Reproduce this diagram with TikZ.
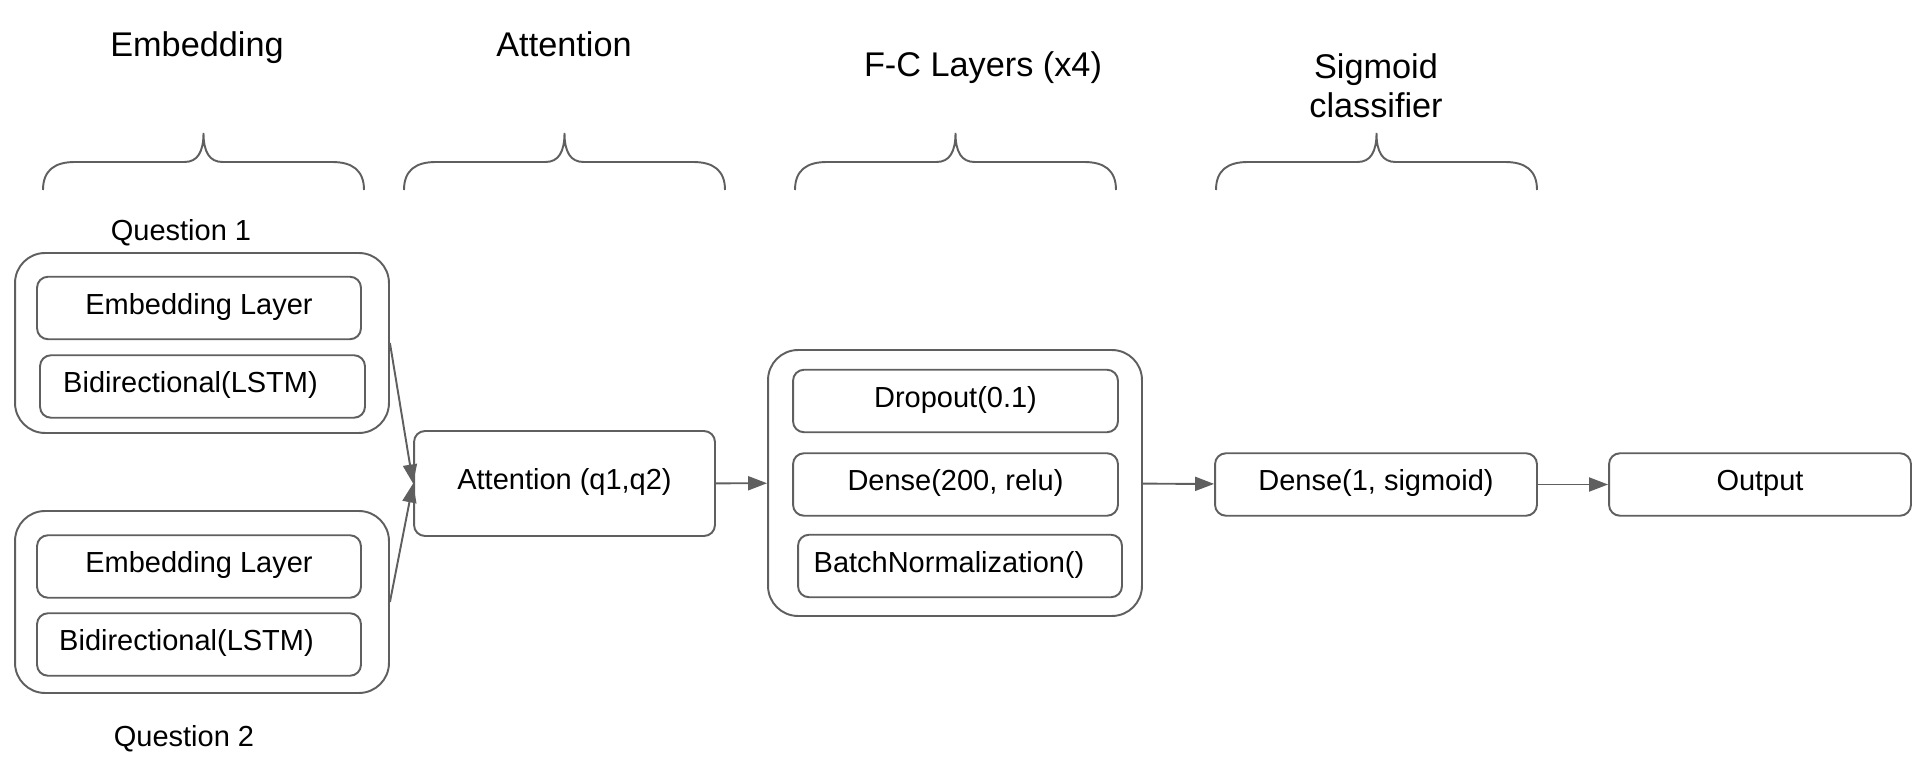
\documentclass[tikz,border=0pt]{standalone}
\usepackage{fontspec}
\setmainfont{Liberation Sans}
\usepackage{tikz}
\usetikzlibrary{arrows.meta,positioning,calc}
\definecolor{linegray}{HTML}{5F5F5F}
\tikzset{
  layer/.style   = {draw=linegray, line width=1.1pt, rounded corners=0.22cm,
                    inner sep=0pt, minimum height=1.25cm, minimum width=6.48cm,
                    text height=0.72em, text depth=0pt, align=center},
  group/.style   = {draw=linegray, line width=1.1pt, rounded corners=0.6cm, inner sep=0pt},
  title/.style   = {font=\fontsize{19.5}{22}\selectfont, align=center},
  sig/.style     = {-{Triangle[length=0.38cm,width=0.28cm]}, draw=linegray, line width=1.1pt},
  bracket/.style = {draw=linegray, line width=1.1pt},
}
\newcommand{\layerbrace}[2]{%
  \pgfmathsetmacro{\bmid}{(#1+#2)/2}
  \draw[bracket] (#1,190) .. controls (#1,170) and (#1+12,162) .. (#1+32,162)
    -- (\bmid-19,162) .. controls (\bmid-6,162) and (\bmid,152) .. (\bmid,133)
    .. controls (\bmid,152) and (\bmid+6,162) .. (\bmid+19,162)
    -- (#2-32,162) .. controls (#2-12,162) and (#2,170) .. (#2,190);}

\begin{document}
\begin{tikzpicture}[x=0.02cm,y=-0.02cm,font=\fontsize{16.5}{20}\selectfont]
\useasboundingbox (0,0) rectangle (1920,759);
\node[title, anchor=base] (tEmb) at (197,57) {Embedding};
\node[title, anchor=base] (tAtt) at (564,57) {Attention};
\node[title, anchor=base] (tFC) at (983,77) {F-C Layers (x4)};
\node[title] (tSig) at (1376,86) {Sigmoid\\classifier};
\layerbrace{43}{364}
\layerbrace{404}{725}
\layerbrace{795}{1116}
\layerbrace{1216}{1537}
\node (q1) at (181,233) {Question 1};
\node[group, minimum width=7.48cm, minimum height=3.6cm] (Q1) at (202,343) {};
\node[layer] (E1) at (199,308) {Embedding Layer};
\node[layer, minimum width=6.5cm] (B1) at (202.5,386.5) {Bidirectional(LSTM)\hspace*{0.48cm}};
\node[group, minimum width=7.48cm, minimum height=3.64cm] (Q2) at (202,602) {};
\node[layer] (E2) at (199,566.5) {Embedding Layer};
\node[layer] (B2) at (199,644.5) {Bidirectional(LSTM)\hspace*{0.5cm}};
\node (q2) at (184,739) {Question 2};
\node[layer, minimum width=6.02cm, minimum height=2.1cm] (Att) at (564.5,483.5) {Attention (q1,q2)};
\node[group, minimum width=7.48cm, minimum height=5.32cm] (FC) at (955,483) {};
\node[layer, minimum width=6.5cm] (Drop) at (955.5,401) {Dropout(0.1)};
\node[layer, minimum width=6.5cm] (D200) at (955.5,484.5) {Dense(200, relu)};
\node[layer] (BN) at (960,566) {BatchNormalization()\hspace*{0.44cm}};
\node[layer, minimum width=6.44cm] (D1) at (1376,484.5) {Dense(1, sigmoid)};
\node[layer, minimum width=6.04cm] (Out) at (1760,484.5) {Output};
\draw[sig] (Q1.east) -- (Att.west);
\draw[sig] (Q2.east) -- (Att.west);
\draw[sig] (Att) -- (FC);
\draw[sig] (FC) -- (D1);
\draw[sig] (D1) -- (Out);
\end{tikzpicture}
\end{document}
